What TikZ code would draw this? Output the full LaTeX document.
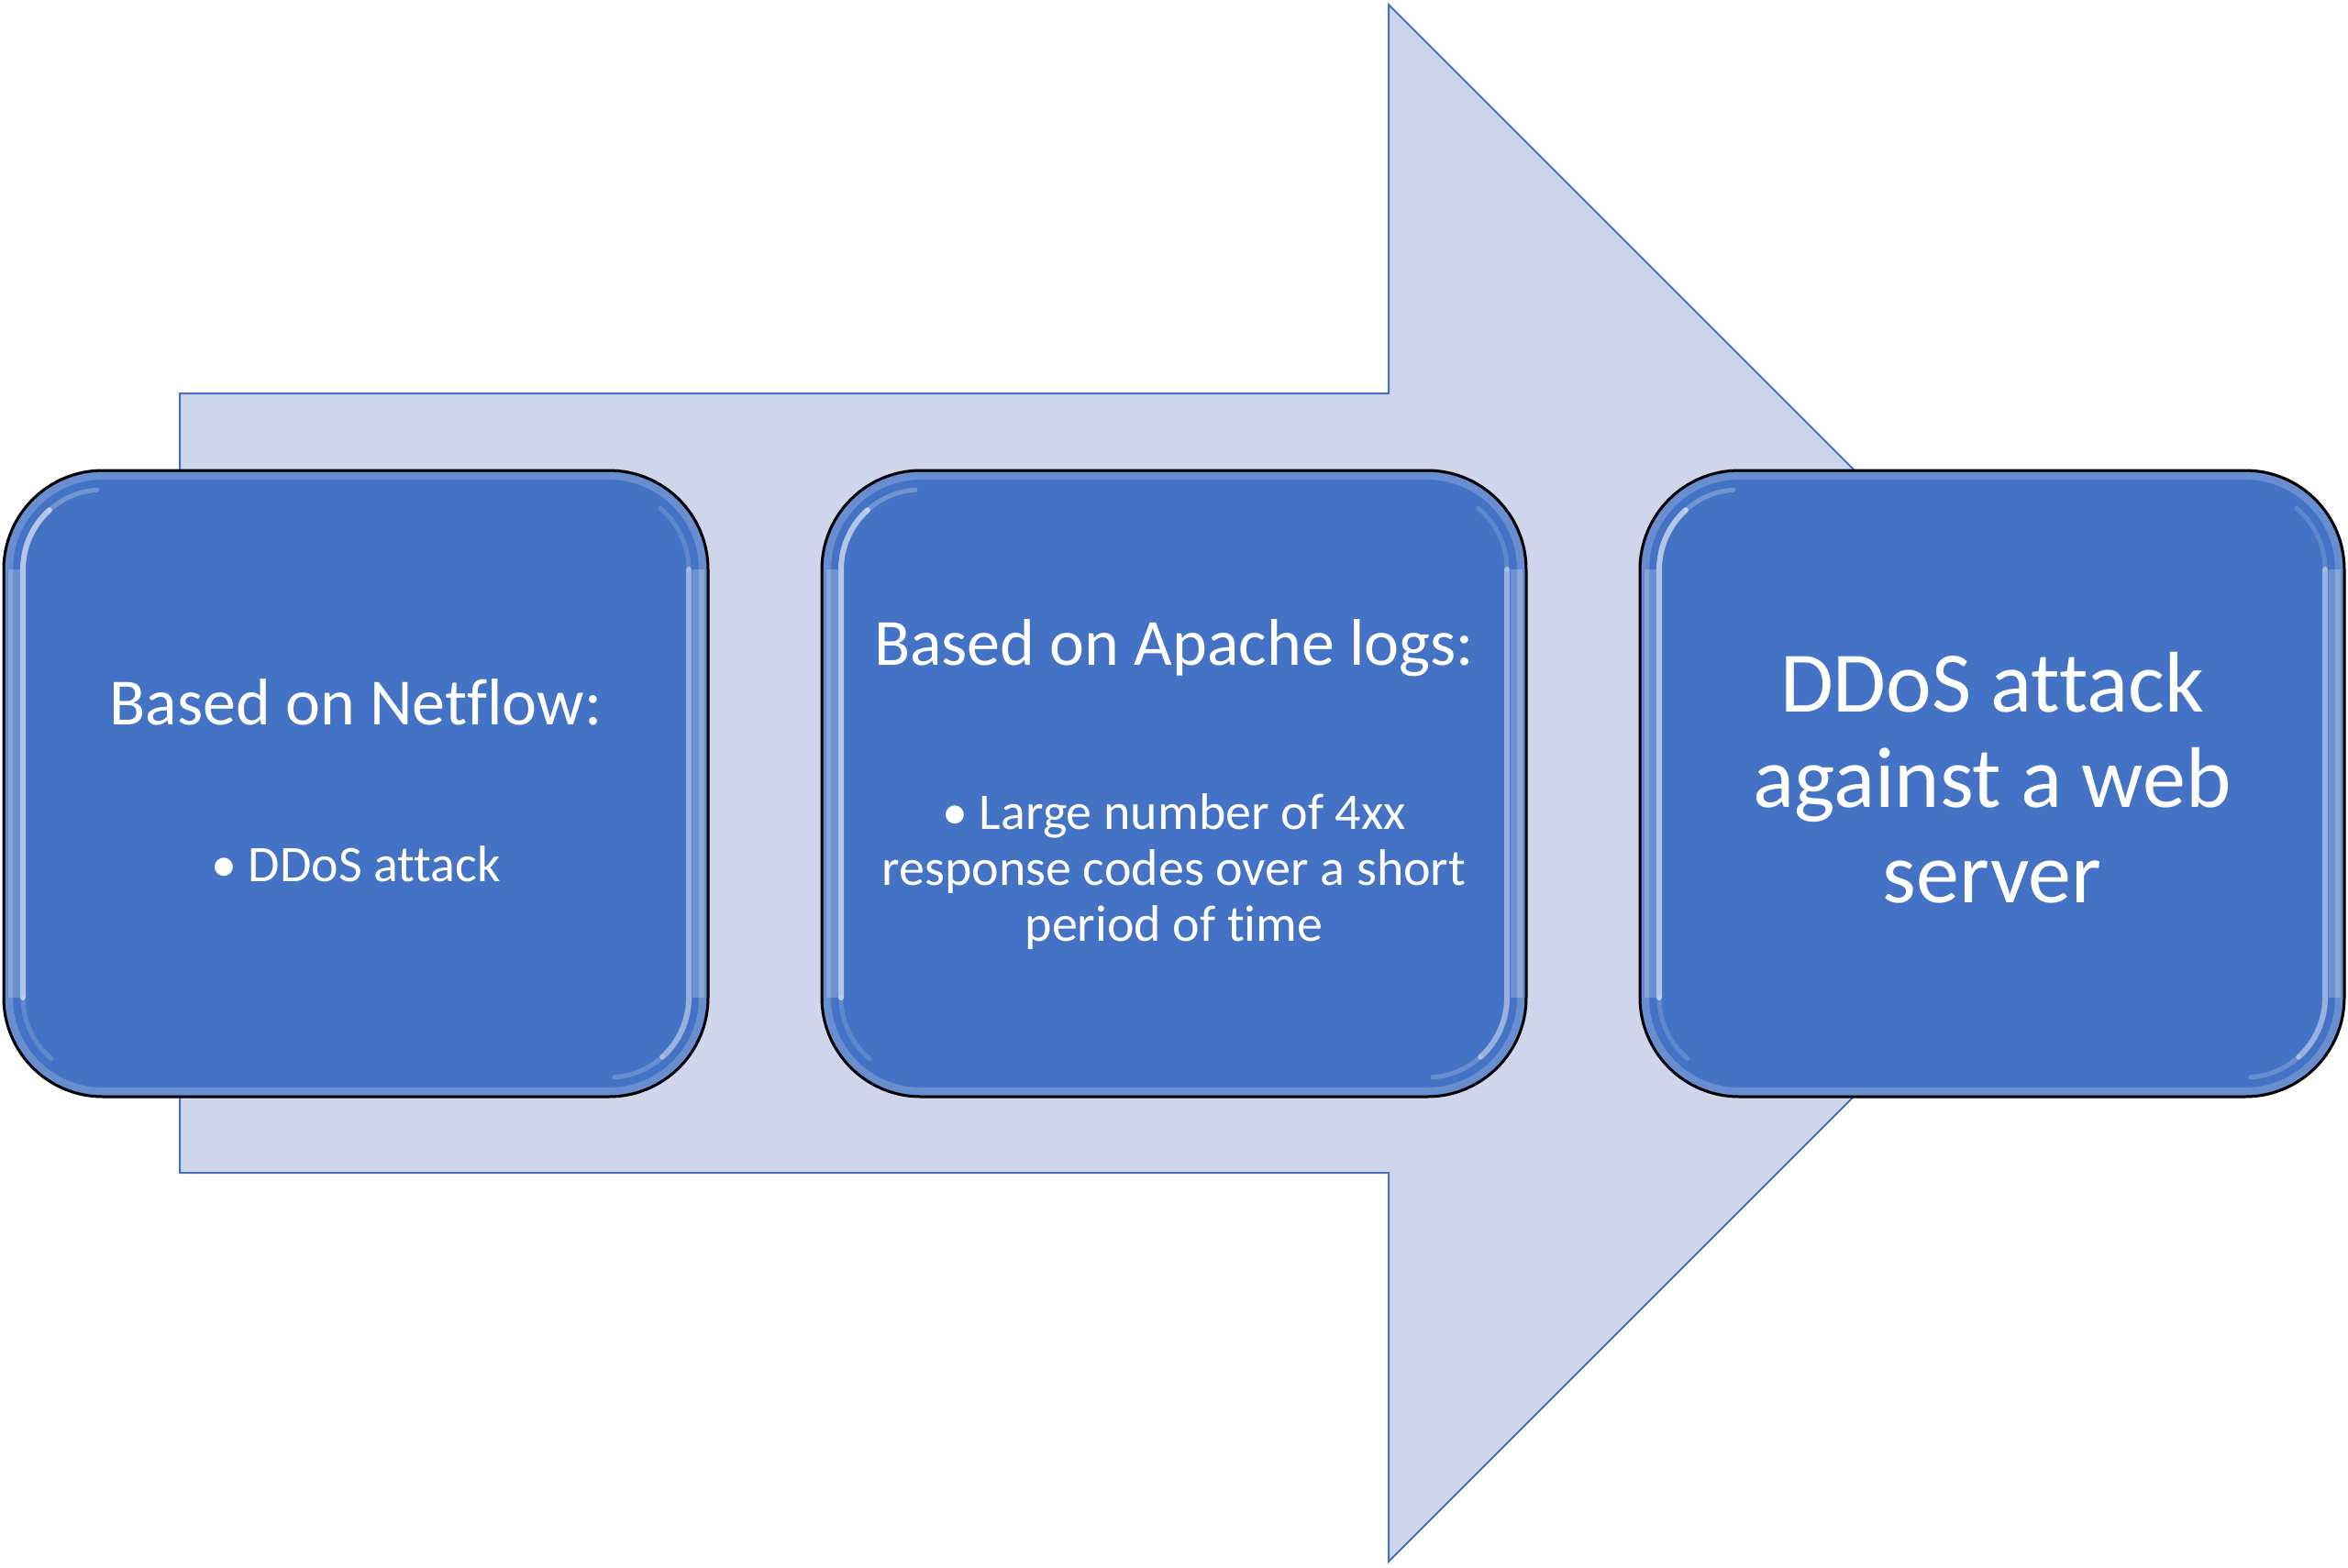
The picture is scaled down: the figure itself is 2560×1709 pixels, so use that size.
\documentclass[tikz,border=0pt]{standalone}
\usepackage{fontspec}
\setmainfont{Carlito}[Ligatures={NoCommon,NoContextual}]
\definecolor{arrowfill}{HTML}{CFD5EA}
\definecolor{accent}{HTML}{4472C4}
\tikzset{
  x=1pt, y=-1pt,
  bigarrow/.style={fill=arrowfill, draw=accent, line width=2pt, line join=miter},
  bevelbox/.style={fill=accent, draw=black, line width=3pt, rounded corners=108pt,
    minimum width=768pt, minimum height=683pt, inner sep=0pt},
  txt/.style={text=white, inner sep=0pt, anchor=base},
  ttl/.style={txt, font=\fontsize{72}{79}\selectfont},
  bul/.style={txt, font=\fontsize{56}{61}\selectfont},
  big/.style={txt, font=\fontsize{94}{103}\selectfont},
  shine/.style={draw=white, line cap=round},
}
\newcommand\boxshine[2]{%
  \begin{scope}[shift={(#1,#2)}]
    % soft light band just inside the outline
    \draw[white, opacity=.2, line width=8pt, rounded corners=102pt] (-378,-335.5) rectangle (378,335.5);
    % wider lighter band on the sides
    \draw[white, opacity=.22, line width=13pt] (-373,-233.5) -- (-373,233.5);
    \draw[white, opacity=.22, line width=13pt] (373,-233.5) -- (373,233.5);
    % bright highlight lines (arc angles are canvas angles: 90 = up)
    \draw[shine, opacity=.6, line width=6pt] (-363,233.5) -- (-363,-233.5) arc[start angle=180, end angle=132, radius=87pt];
    \draw[shine, opacity=.25, line width=5pt] (-276,-233.5) ++(132:87pt) arc[start angle=132, end angle=94, radius=87pt];
    \draw[shine, opacity=.45, line width=6pt] (363,-233.5) -- (363,233.5) arc[start angle=0, end angle=-48, radius=87pt];
    \draw[shine, opacity=.2, line width=5pt] (276,233.5) ++(-48:87pt) arc[start angle=-48, end angle=-86, radius=87pt];
    \draw[shine, opacity=.15, line width=5pt] (-363,233.5) arc[start angle=180, end angle=230, radius=87pt];
    \draw[shine, opacity=.15, line width=5pt] (363,-233.5) arc[start angle=0, end angle=50, radius=87pt];
  \end{scope}}
\begin{document}
\begin{tikzpicture}
\useasboundingbox (0,0) rectangle (2560,1709);
\draw[bigarrow] (196,429) -- (1514,429) -- (1514,5) -- (2363,854) -- (1514,1703) -- (1514,1279) -- (196,1279) -- cycle;

\node[bevelbox] (b1) at (388,854.5) {};
\node[bevelbox] (b2) at (1280,854.5) {};
\node[bevelbox] (b3) at (2172,854.5) {};
\boxshine{388}{854.5}
\boxshine{1280}{854.5}
\boxshine{2172}{854.5}

\node[ttl] (t1) at (388,790) {Based on Netflow:};
\node[bul] (t1a) at (388,961) {• DDoS attack};

\node[ttl] (t2) at (1280,725) {Based on Apache logs:};
\node[bul] (t2a) at (1280,904) {• Large number of 4xx};
\node[bul] (t2b) at (1280,965) {response codes over a short};
\node[bul] (t2c) at (1280,1026) {period of time};

\node[big] (t3a) at (2172,776) {DDoS attack};
\node[big] (t3b) at (2172,880) {against a web};
\node[big] (t3c) at (2172,984) {server};
\end{tikzpicture}
\end{document}
